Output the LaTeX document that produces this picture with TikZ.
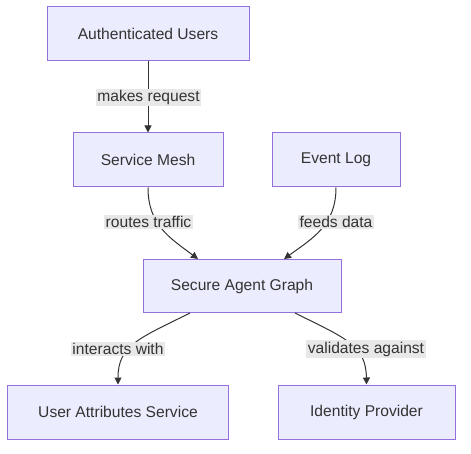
\documentclass[tikz,border=0pt]{standalone}
\usepackage{fontspec}
\setmainfont{Liberation Sans}
\usetikzlibrary{arrows.meta}
\definecolor{boxfill}{HTML}{ECECFF}
\definecolor{boxline}{HTML}{9370DB}
\definecolor{lblfill}{HTML}{E8E8E8}
\definecolor{ink}{HTML}{333333}
\tikzset{
  box/.style={draw=boxline, fill=boxfill, line width=1pt, text=ink, inner sep=0pt, font=\fontsize{15.6}{19}\selectfont},
  lbl/.style={fill=lblfill, text=ink, inner sep=1.5pt, font=\fontsize{15.6}{19}\selectfont},
  conn/.style={draw=ink, line width=1pt, -{Triangle[length=7pt,width=7pt]}}
}
\begin{document}
\begin{tikzpicture}[x=1pt,y=-1pt]
\useasboundingbox (0,0) rectangle (471,454);
\node[box, minimum width=202pt, minimum height=54pt] (au) at (148,34) {Authenticated Users};
\node[box, minimum width=150pt, minimum height=54pt] (sm) at (148,160) {Service Mesh};
\node[box, minimum width=128pt, minimum height=54pt] (el) at (336,160) {Event Log};
\node[box, minimum width=198pt, minimum height=53pt] (sag) at (242,286) {Secure Agent Graph};
\node[box, minimum width=221pt, minimum height=54pt] (uas) at (118,412) {User Attributes Service};
\node[box, minimum width=177pt, minimum height=54pt] (idp) at (366.5,412) {Identity Provider};
% connectors
\draw[conn] (au.south) -- (sm.north);
\draw[conn] (sm.south) .. controls (148,225) and (170,238) .. ([xshift=-44pt]sag.north);
\draw[conn] (el.south) .. controls (336,225) and (313,238) .. ([xshift=42pt]sag.north);
\draw[conn] ([xshift=-52pt]sag.south) .. controls (140,338) and (118,345) .. (uas.north);
\draw[conn] ([xshift=53pt]sag.south) .. controls (345,338) and (366,345) .. (idp.north);
% labels
\node[lbl] (l1) at (148.5,97.5) {makes request};
\node[lbl] (l2) at (148.5,222) {routes traffic};
\node[lbl] (l3) at (336,222) {feeds data};
\node[lbl] (l4) at (118,349) {interacts with};
\node[lbl] (l5) at (366,349) {validates against};
\end{tikzpicture}
\end{document}
